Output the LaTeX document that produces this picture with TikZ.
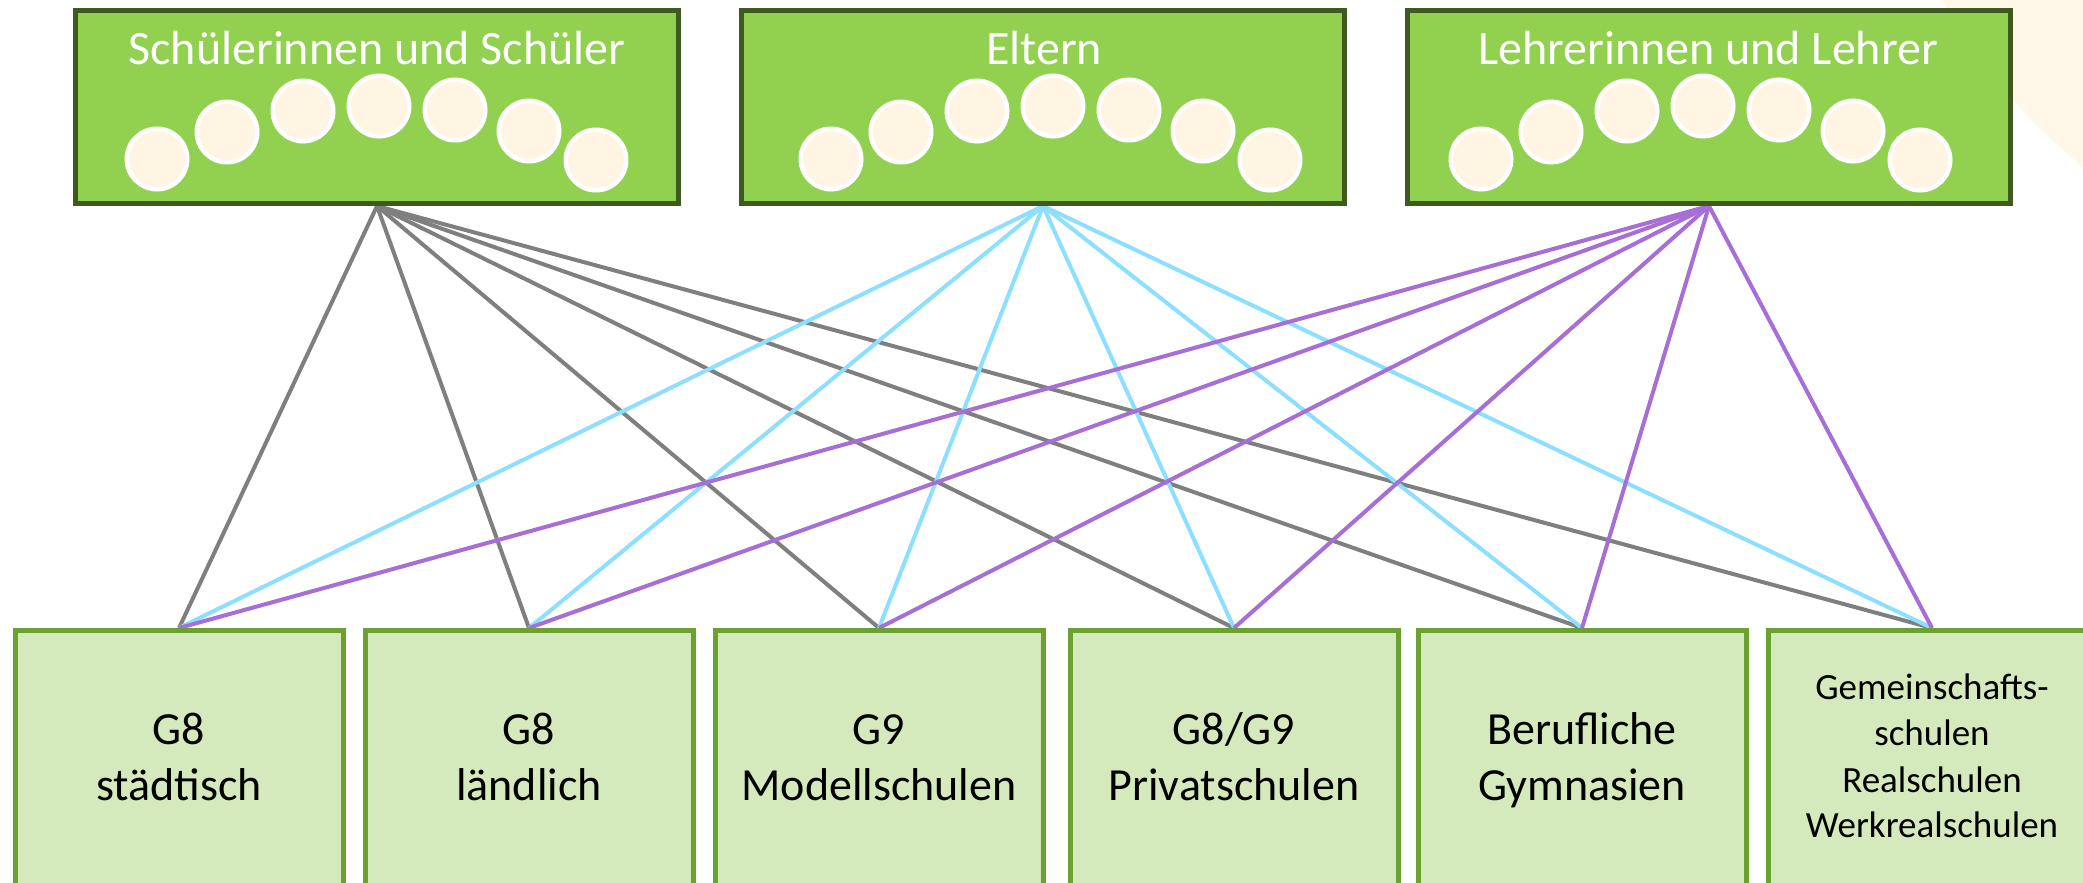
\documentclass[tikz,border=0pt]{standalone}
\usepackage{fontspec}
\setmainfont{Carlito}
\usetikzlibrary{backgrounds}
\definecolor{topfill}{HTML}{92D050}
\definecolor{topedge}{HTML}{3F5A20}
\definecolor{lowfill}{HTML}{D4EABC}
\definecolor{lowedge}{HTML}{6BA12E}
\definecolor{cream}{HTML}{FFF5E2}
\definecolor{paleglow}{HTML}{FFF7E8}
\definecolor{linegray}{HTML}{7F7F7F}
\definecolor{lineblue}{HTML}{8CDFFF}
\definecolor{linepurple}{HTML}{A66ED6}
\tikzset{
  topbox/.style={draw=topedge, line width=5pt, fill=topfill, minimum width=603, minimum height=193, inner sep=0pt},
  lowbox/.style={draw=lowedge, line width=5pt, fill=lowfill, minimum width=328, minimum height=270, inner sep=0pt},
  dot/.style={circle, draw=white, line width=4.5pt, fill=cream, minimum size=60.5, inner sep=0pt},
  title/.style={anchor=base, inner sep=0pt, text=white, font=\fontsize{48}{58}\selectfont},
  label/.style={anchor=base, inner sep=0pt, text=black, font=\fontsize{46}{56}\selectfont},
  smalllabel/.style={anchor=base, inner sep=0pt, text=black, font=\fontsize{37}{46}\selectfont},
  link/.style={line width=4pt},
}
\begin{document}
\begin{tikzpicture}[x=1pt, y=-1pt]
\useasboundingbox (0,0) rectangle (2083,883);
\clip (0,0) rectangle (2083,883);

% group boxes
\path (377,107) node[topbox] (schueler) {}
      (1043,107) node[topbox] (eltern) {}
      (1709,107) node[topbox] (lehrer) {};

% school type boxes
\path (179,765.5) node[lowbox] (b1) {}
      (529,765.5) node[lowbox] (b2) {}
      (879,765.5) node[lowbox] (b3) {}
      (1234,765.5) node[lowbox] (b4) {}
      (1582,765.5) node[lowbox] (b5) {}
      (1932,765.5) node[lowbox] (b6) {};

% links from every group to every school type, kept behind the boxes
\begin{pgfonlayer}{background}
  \fill[paleglow] (2446,-283) circle[radius=578];
  \foreach \b in {b1,b2,b3,b4,b5,b6}
    \draw[link, linegray] (schueler.south) -- (\b.north);
  \foreach \b in {b1,b2,b3,b4,b5,b6}
    \draw[link, lineblue] (eltern.south) -- (\b.north);
  \foreach \b in {b1,b2,b3,b4,b5,b6}
    \draw[link, linepurple] (lehrer.south) -- (\b.north);
\end{pgfonlayer}

% rows of heads inside the group boxes
\foreach \g/\cx in {s/379, e/1053, l/1703}
  \foreach \i/\dx/\yy in {1/-222/159, 2/-152/132, 3/-76/111, 4/0/106, 5/76/110, 6/150/131, 7/217/160}
    \node[dot] (\g\i) at (\cx+\dx,\yy) {};

% group titles
\node[title] (t-schueler) at (377,65) {Schülerinnen und Schüler};
\node[title] (t-eltern) at (1044,65) {Eltern};
\node[title] (t-lehrer) at (1708,65) {Lehrerinnen und Lehrer};

% school type labels
\node[label] (l1a) at (179,744) {G8};
\node[label] (l1b) at (179,800) {städtisch};
\node[label] (l2a) at (529,744) {G8};
\node[label] (l2b) at (529,800) {ländlich};
\node[label] (l3a) at (879,744) {G9};
\node[label] (l3b) at (879,800) {Modellschulen};
\node[label] (l4a) at (1234,744) {G8/G9};
\node[label] (l4b) at (1234,800) {Privatschulen};
\node[label] (l5a) at (1582,744) {Berufliche};
\node[label] (l5b) at (1582,800) {Gymnasien};
\node[smalllabel] (l6a) at (1932,699) {Gemeinschafts-};
\node[smalllabel] (l6b) at (1932,745) {schulen};
\node[smalllabel] (l6c) at (1932,792) {Realschulen};
\node[smalllabel] (l6d) at (1932,837) {Werkrealschulen};
\end{tikzpicture}
\end{document}
